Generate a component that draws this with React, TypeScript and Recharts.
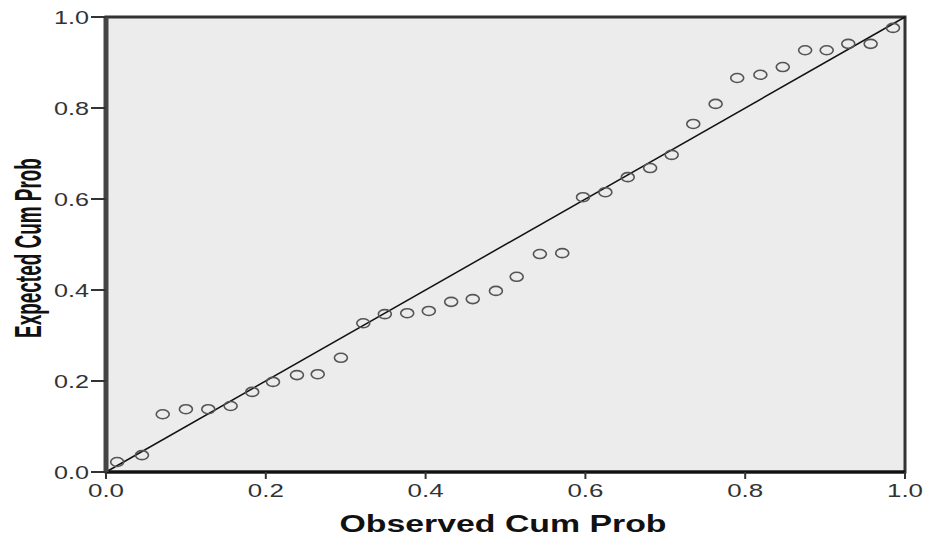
import { ScatterChart, Scatter, XAxis, YAxis, CartesianGrid, ReferenceLine, ReferenceArea, Label } from "recharts"

// observed cumulative probability (x) and expected cumulative probability (y)
const observed = [
  0.014, 0.045, 0.071, 0.1, 0.128, 0.156, 0.183, 0.209, 0.239, 0.265, 0.294, 0.322,
  0.349, 0.377, 0.404, 0.432, 0.459, 0.488, 0.514, 0.543, 0.571, 0.597, 0.625, 0.653,
  0.681, 0.708, 0.735, 0.763, 0.79, 0.819, 0.847, 0.875, 0.902, 0.929, 0.957, 0.985,
]
const expected = [
  0.022, 0.037, 0.127, 0.138, 0.138, 0.145, 0.176, 0.198, 0.213, 0.215, 0.251, 0.327,
  0.347, 0.349, 0.354, 0.374, 0.38, 0.398, 0.429, 0.479, 0.481, 0.604, 0.615, 0.648,
  0.668, 0.697, 0.765, 0.809, 0.866, 0.873, 0.89, 0.927, 0.927, 0.941, 0.941, 0.976,
]
const axisTicks = [0, 0.2, 0.4, 0.6, 0.8, 1.0]
const tickLabels = ["0.0", "0.2", "0.4", "0.6", "0.8", "1.0"]

const data = observed.map((x, i) => ({ x, y: expected[i] }))
const font = "'Liberation Sans', Arial, sans-serif"

const labelFor = (v: number) => tickLabels[axisTicks.findIndex((t) => Math.abs(t - v) < 1e-6)] ?? v.toFixed(1)

const YTick = (props: any) => {
  const { x, y, payload } = props
  return (
    <text x={x} y={y} dy={7} textAnchor="end" fontSize={19} fill="#333" fontFamily={font}
      textLength={35} lengthAdjust="spacingAndGlyphs">
      {labelFor(payload.value)}
    </text>
  )
}

const XTick = (props: any) => {
  const { x, y, payload } = props
  return (
    <text x={x} y={y} dy={16} textAnchor="middle" fontSize={19} fill="#333" fontFamily={font}
      textLength={36} lengthAdjust="spacingAndGlyphs">
      {labelFor(payload.value)}
    </text>
  )
}

const Ring = (props: any) => {
  const { cx, cy } = props
  if (cx == null || cy == null) return null
  return <ellipse cx={cx} cy={cy} rx={6.5} ry={4.5} fill="none" stroke="#555" strokeWidth={1.6} />
}

export default function App() {
  return (
    <div style={{ position: "absolute", left: 0, top: 0, background: "#fff" }}>
      <ScatterChart width={927} height={539} margin={{ top: 17, right: 22, bottom: 0, left: 0 }}>
        <CartesianGrid horizontal={false} vertical={false} fill="#ececec" />
        <XAxis
          type="number"
          dataKey="x"
          domain={[0, 1]}
          ticks={axisTicks}
          height={67}
          tickSize={7}
          tickLine={{ stroke: "#333", strokeWidth: 2 }}
          axisLine={{ stroke: "#111", strokeWidth: 3 }}
          tick={<XTick />}
        >
          <Label
            content={() => (
              <text x={503} y={532} textAnchor="middle" fontSize={23} fontWeight="bold" fill="#111"
                fontFamily={font} textLength={327} lengthAdjust="spacingAndGlyphs">
                Observed Cum Prob
              </text>
            )}
          />
        </XAxis>
        <YAxis
          type="number"
          dataKey="y"
          domain={[0, 1]}
          ticks={axisTicks}
          width={106}
          tickSize={15}
          tickLine={{ stroke: "#333", strokeWidth: 2 }}
          axisLine={{ stroke: "#444", strokeWidth: 5 }}
          tick={<YTick />}
        >
          <Label
            content={() => (
              <g transform="translate(41 248) rotate(-90) scale(0.526 1)">
                <text x={0} y={0} textAnchor="middle" fontSize={36} fontWeight="bold" fill="#111"
                  fontFamily={font}>
                  Expected Cum Prob
                </text>
              </g>
            )}
          />
        </YAxis>
        <ReferenceArea x1={0} x2={1} y1={0} y2={1} fill="none" stroke="#333" strokeWidth={3} />
        <ReferenceLine segment={[{ x: 0, y: 0 }, { x: 1, y: 1 }]} stroke="#111" strokeWidth={1.5} />
        <Scatter data={data} shape={<Ring />} isAnimationActive={false} />
      </ScatterChart>
    </div>
  )
}
